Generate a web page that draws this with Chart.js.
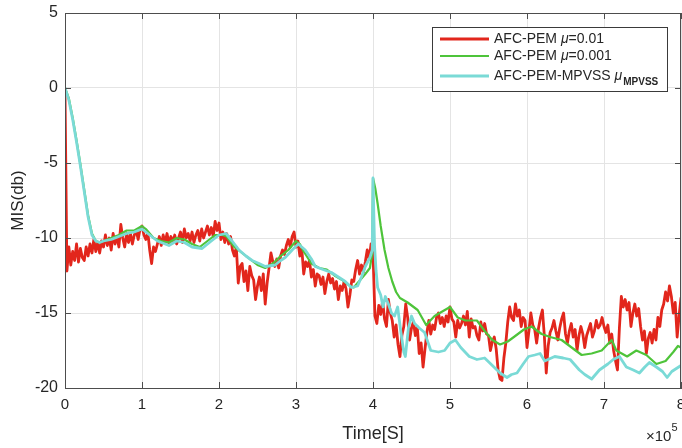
<!DOCTYPE html>
<html>
<head>
<meta charset="utf-8">
<script src="https://cdn.jsdelivr.net/npm/chart.js@4.4.0/dist/chart.umd.min.js"></script>
<style>
  html, body { margin: 0; padding: 0; background: #fff; }
</style>
</head>
<body>
<canvas id="chart" width="682" height="448"></canvas>
<script>
// time axis in units of 1e5 samples, MIS in dB
const xTicks = [0, 1, 2, 3, 4, 5, 6, 7, 8];
const yTicks = [-20, -15, -10, -5, 0, 5];

// mu = 0.01 curve, one value every 0.025 (x1e5) from 0 to 8
const redStep = 0.025;
const redY = [
  -0.3,-12.2,-10.6,-11.8,-10.9,-11.5,-10.4,-11.6,-10.7,-11.3,
  -11.5,-10.6,-11.2,-10.4,-11.0,-10.1,-10.9,-10.3,-11.0,-10.2,
  -10.6,-9.8,-10.5,-10.0,-10.8,-9.7,-10.4,-9.9,-10.6,-9.1,
  -10.0,-10.6,-9.7,-10.3,-9.7,-10.4,-9.8,-9.5,-10.1,-9.4,
  -9.2,-9.8,-10.1,-9.6,-10.8,-11.7,-10.6,-10.9,-10.4,-9.9,
  -10.5,-9.8,-10.3,-9.7,-10.4,-9.9,-10.3,-9.8,-10.4,-10.0,
  -9.6,-10.3,-9.4,-10.0,-9.7,-10.2,-9.6,-10.3,-9.8,-9.5,
  -10.2,-9.4,-10.0,-9.6,-9.2,-9.8,-9.3,-9.9,-8.9,-9.5,
  -9.0,-10.1,-9.6,-10.3,-9.7,-10.4,-9.9,-10.8,-11.2,-10.6,
  -13.0,-11.9,-11.7,-12.9,-12.2,-13.5,-11.9,-12.5,-12.8,-14.1,
  -13.2,-12.6,-13.5,-12.4,-14.4,-13.0,-12.0,-11.0,-11.6,-11.9,
  -11.4,-12.0,-11.2,-10.8,-11.1,-10.5,-10.1,-10.6,-9.9,-9.6,
  -10.6,-10.2,-11.2,-10.7,-12.4,-11.6,-11.9,-11.5,-12.6,-12.1,
  -13.2,-12.4,-12.5,-13.1,-12.6,-13.7,-12.9,-12.4,-13.0,-12.7,
  -13.4,-12.9,-14.1,-13.2,-13.5,-12.9,-13.4,-14.6,-13.8,-12.8,
  -12.9,-12.1,-11.5,-12.4,-11.8,-12.3,-11.6,-10.8,-11.4,-10.4,
  -11.0,-15.2,-15.7,-14.5,-15.1,-14.2,-15.4,-15.9,-14.1,-15.0,
  -15.5,-16.6,-15.8,-17.1,-17.9,-16.5,-15.9,-14.4,-15.3,-16.8,
  -16.0,-15.6,-16.5,-15.9,-17.7,-17.0,-18.6,-17.4,-16.3,-15.5,
  -16.4,-15.8,-16.1,-15.3,-15.0,-15.7,-15.3,-15.9,-15.2,-15.6,
  -14.6,-15.4,-15.6,-16.6,-15.5,-16.0,-15.7,-15.2,-15.8,-14.9,
  -16.6,-15.4,-16.0,-15.9,-16.5,-16.8,-15.6,-16.2,-15.7,-16.4,
  -16.5,-17.5,-16.9,-16.6,-17.4,-18.8,-19.4,-19.5,-18.0,-17.0,
  -15.6,-14.6,-15.3,-15.5,-14.4,-15.2,-14.8,-15.9,-15.3,-15.5,
  -17.3,-16.2,-15.0,-15.8,-16.1,-17.0,-16.0,-15.3,-14.8,-16.5,
  -19.0,-17.2,-16.3,-16.0,-15.5,-16.2,-16.8,-16.0,-15.4,-15.0,
  -16.4,-17.0,-16.2,-15.7,-16.6,-16.1,-17.5,-16.5,-15.9,-16.4,
  -17.3,-16.5,-16.1,-15.7,-16.6,-16.2,-15.5,-16.0,-15.8,-15.3,
  -15.9,-16.3,-15.8,-17.0,-16.4,-17.5,-18.2,-18.8,-16.0,-13.9,
  -14.6,-14.1,-14.8,-14.3,-15.9,-15.0,-14.4,-15.2,-14.7,-15.9,
  -16.8,-16.2,-17.7,-16.7,-16.3,-17.0,-16.1,-16.8,-15.3,-15.9,
  -14.8,-14.4,-13.6,-14.2,-13.2,-13.9,-15.0,-14.3,-16.6,-15.2,
  -14.0];

const greenX = [0,0.05,0.1,0.15,0.2,0.25,0.3,0.35,0.4,0.45,0.5,0.6,0.7,0.8,0.9,1.0,1.05,1.15,1.25,1.35,1.45,1.55,1.65,1.75,1.85,1.95,
  2.05,2.1,2.2,2.3,2.4,2.5,2.6,2.7,2.8,2.9,3.0,3.05,3.1,3.2,3.3,3.4,3.5,3.6,3.7,3.75,3.8,3.9,3.96,3.99,4.0,4.03,4.06,4.1,4.15,4.2,
  4.25,4.3,4.35,4.45,4.58,4.69,4.8,4.9,5.0,5.1,5.2,5.35,5.45,5.55,5.65,5.75,5.83,5.96,6.06,6.19,6.3,6.45,6.58,6.71,6.84,6.97,7.1,
  7.16,7.3,7.42,7.55,7.68,7.8,7.9,7.96,8.0];
const greenY = [0,-0.7,-2.0,-3.5,-5.1,-6.8,-8.5,-9.7,-10.2,-10.3,-10.2,-10.0,-9.8,-9.5,-9.5,-9.2,-9.4,-10.0,-10.2,-10.3,-10.0,-10.1,-10.4,-10.6,-10.2,-9.8,
  -9.8,-9.9,-10.6,-11.0,-11.4,-11.8,-12.0,-11.7,-11.2,-10.8,-10.2,-10.4,-10.9,-11.7,-12.0,-12.1,-12.5,-12.8,-13.2,-13.3,-13.0,-12.4,-12.0,-11.0,-6.0,-6.7,-7.7,-9.2,-10.8,-12.0,
  -12.9,-13.6,-14.0,-14.3,-14.8,-15.8,-15.2,-14.9,-14.6,-15.3,-15.5,-15.5,-16.2,-16.8,-17.1,-16.9,-16.6,-16.1,-15.9,-16.4,-16.6,-16.8,-17.3,-17.8,-17.7,-17.5,-16.8,
  -17.5,-17.9,-17.5,-17.8,-18.4,-18.2,-17.6,-17.2,-17.3];

const cyanX = [0,0.05,0.1,0.15,0.2,0.25,0.3,0.35,0.4,0.45,0.5,0.6,0.7,0.8,0.9,1.0,1.1,1.2,1.35,1.45,1.55,1.65,1.78,1.9,2.0,2.09,
  2.17,2.26,2.35,2.43,2.52,2.6,2.73,2.8,2.86,2.95,3.03,3.12,3.2,3.25,3.35,3.46,3.55,3.64,3.72,3.8,3.85,3.9,3.96,3.99,4.0,4.02,4.04,
  4.06,4.1,4.13,4.16,4.2,4.24,4.28,4.32,4.36,4.4,4.42,4.46,4.5,4.54,4.6,4.67,4.75,4.85,4.93,5.0,5.07,5.14,5.25,5.35,5.45,5.57,5.65,
  5.74,5.8,5.87,5.95,6.02,6.1,6.17,6.23,6.36,6.47,6.56,6.68,6.75,6.84,6.94,7.05,7.12,7.2,7.29,7.38,7.46,7.53,7.59,7.68,7.76,7.82,
  7.88,7.94,8.0];
const cyanY = [0,-0.8,-2.1,-3.6,-5.2,-6.9,-8.6,-9.8,-10.2,-10.3,-10.2,-10.1,-9.9,-9.7,-9.6,-9.4,-9.8,-10.2,-10.5,-10.2,-10.3,-10.6,-10.7,-10.2,-9.8,-9.7,
  -10.2,-10.8,-11.2,-11.5,-11.7,-11.9,-11.8,-11.5,-11.3,-10.8,-10.4,-10.8,-11.4,-11.9,-12.1,-12.3,-12.6,-12.9,-13.3,-13.2,-12.6,-11.9,-11.3,-10.8,-6.0,-10.5,-12.2,
  -13.3,-13.8,-14.6,-13.9,-14.4,-15.0,-15.2,-14.6,-16.2,-17.6,-17.9,-16.0,-15.2,-15.7,-16.0,-16.3,-17.5,-17.6,-17.5,-17.0,-16.8,-17.3,-17.9,-18.1,-18.0,-18.6,-19.0,
  -19.3,-19.1,-19.0,-18.4,-17.9,-17.8,-17.7,-18.2,-17.9,-18.0,-18.1,-18.8,-19.1,-19.4,-18.8,-18.4,-18.1,-17.9,-18.6,-18.8,-19.0,-18.6,-18.3,-18.6,-18.9,-19.3,
  -18.9,-18.7,-18.5];

const FONT = '"Liberation Sans", Arial, Helvetica, sans-serif';
const TEXT = '#262626';

function pts(xs, ys) {
  return xs.map((x, i) => ({ x: x, y: ys[i] }));
}
const redX = redY.map((_, i) => +(i * redStep).toFixed(3));

// legend with italic mu and subscript, drawn on top of the plot
const legendBox = {
  id: 'legendBox',
  afterDatasetsDraw(chart) {
    const ctx = chart.ctx;
    const bx = 432, by = 27, bw = 235, bh = 64;
    ctx.save();
    ctx.fillStyle = '#fff';
    ctx.fillRect(bx, by, bw, bh);
    ctx.strokeStyle = '#3a3a3a';
    ctx.lineWidth = 1;
    ctx.strokeRect(bx + 0.5, by + 0.5, bw, bh);

    const rows = [39, 56, 76];
    const parts = [
      [['AFC-PEM ', 'n'], ['\u03bc', 'i'], ['=0.01', 'n']],
      [['AFC-PEM ', 'n'], ['\u03bc', 'i'], ['=0.001', 'n']],
      [['AFC-PEM-MPVSS ', 'n'], ['\u03bc', 'i'], ['MPVSS', 's']]
    ];
    chart.data.datasets.forEach((ds, i) => {
      const y = rows[i];
      ctx.strokeStyle = ds.borderColor;
      ctx.lineWidth = ds.borderWidth;
      ctx.beginPath();
      ctx.moveTo(440, y);
      ctx.lineTo(489, y);
      ctx.stroke();

      let x = 494;
      ctx.fillStyle = TEXT;
      ctx.textBaseline = 'middle';
      ctx.textAlign = 'left';
      parts[i].forEach(([t, k]) => {
        let dy = 0;
        if (k === 'i') ctx.font = 'italic 14px ' + FONT;
        else if (k === 's') { ctx.font = 'bold 10px ' + FONT; dy = 6; x += 1; }
        else ctx.font = '14px ' + FONT;
        ctx.fillText(t, x, y + dy);
        x += ctx.measureText(t).width;
      });
    });
    ctx.restore();
  }
};

// box on all four sides, inward ticks, and the x10^5 exponent label
const frame = {
  id: 'frame',
  afterDraw(chart) {
    const { ctx, chartArea: a, scales } = chart;
    ctx.save();
    ctx.strokeStyle = '#4d4d4d';
    ctx.lineWidth = 1;
    ctx.strokeRect(Math.round(a.left) + 0.5, Math.round(a.top) + 0.5,
      Math.round(a.right - a.left) - 1, Math.round(a.bottom - a.top));
    ctx.beginPath();
    xTicks.forEach(v => {
      const px = Math.round(scales.x.getPixelForValue(v)) + 0.5;
      ctx.moveTo(px, a.bottom); ctx.lineTo(px, a.bottom - 6);
      ctx.moveTo(px, a.top); ctx.lineTo(px, a.top + 6);
    });
    yTicks.forEach(v => {
      const py = Math.round(scales.y.getPixelForValue(v)) + 0.5;
      ctx.moveTo(a.left, py); ctx.lineTo(a.left + 6, py);
      ctx.moveTo(a.right, py); ctx.lineTo(a.right - 6, py);
    });
    ctx.stroke();

    ctx.fillStyle = TEXT;
    ctx.textAlign = 'left';
    ctx.textBaseline = 'alphabetic';
    ctx.font = '15px ' + FONT;
    ctx.fillText('\u00d710', 646, 441);
    const w = ctx.measureText('\u00d710').width;
    ctx.font = '11px ' + FONT;
    ctx.fillText('5', 646 + w, 431);
    ctx.restore();
  }
};

new Chart(document.getElementById('chart'), {
  type: 'line',
  data: {
    datasets: [
      {
        label: 'AFC-PEM \u03bc=0.01',
        data: pts(redX, redY),
        borderColor: 'rgb(226,38,28)',
        borderWidth: 2.8,
        order: 3
      },
      {
        label: 'AFC-PEM \u03bc=0.001',
        data: pts(greenX, greenY),
        borderColor: 'rgb(78,196,58)',
        borderWidth: 2.2,
        order: 2
      },
      {
        label: 'AFC-PEM-MPVSS \u03bcMPVSS',
        data: pts(cyanX, cyanY),
        borderColor: 'rgb(122,218,214)',
        borderWidth: 2.8,
        order: 1
      }
    ]
  },
  options: {
    responsive: false,
    animation: false,
    parsing: false,
    elements: {
      point: { radius: 0 },
      line: { tension: 0, borderJoinStyle: 'round', borderCapStyle: 'round' }
    },
    layout: { autoPadding: false, padding: { top: 13, right: 1, left: 0, bottom: 0 } },
    plugins: {
      legend: { display: false },
      tooltip: { enabled: false }
    },
    scales: {
      x: {
        type: 'linear',
        min: 0,
        max: 8,
        afterBuildTicks: s => { s.ticks = xTicks.map(v => ({ value: v })); },
        afterFit: s => { s.height = 60; s.paddingLeft = 0; s.paddingRight = 0; },
        grid: { color: '#e4e4e4', drawTicks: false },
        border: { color: '#4d4d4d' },
        ticks: { padding: 8, color: TEXT, font: { family: FONT, size: 15 }, maxRotation: 0 },
        title: { display: true, text: 'Time[S]', color: TEXT, font: { family: FONT, size: 18 }, padding: { bottom: 3 } }
      },
      y: {
        type: 'linear',
        min: -20,
        max: 5,
        afterBuildTicks: s => { s.ticks = yTicks.map(v => ({ value: v })); },
        afterFit: s => { s.width = 65; s.paddingTop = 0; s.paddingBottom = 0; },
        grid: { color: '#e4e4e4', drawTicks: false },
        border: { color: '#4d4d4d' },
        ticks: { padding: 7, color: TEXT, font: { family: FONT, size: 16 } },
        title: { display: true, text: 'MIS(db)', color: TEXT, font: { family: FONT, size: 17 }, padding: { top: 8 } }
      }
    }
  },
  plugins: [frame, legendBox]
});
</script>
</body>
</html>
